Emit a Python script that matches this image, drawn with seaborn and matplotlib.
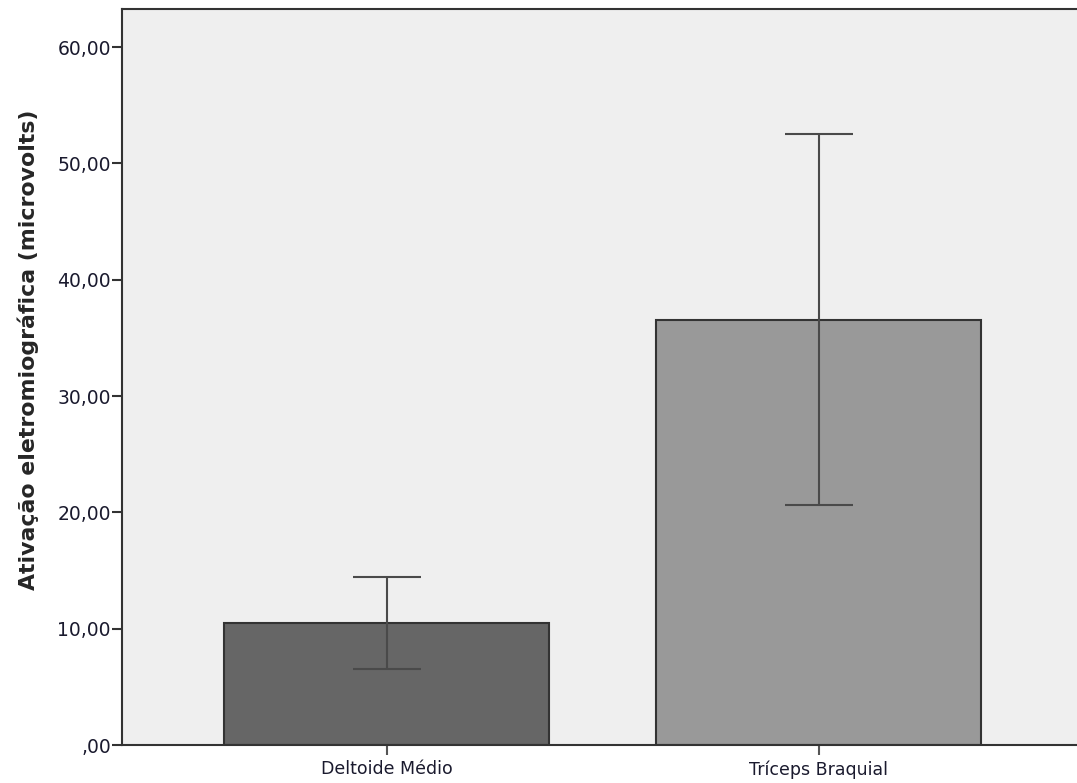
import numpy as np
import pandas as pd
import seaborn as sns
import matplotlib.pyplot as plt
from matplotlib.ticker import FuncFormatter

# valores
musculos = ['Deltoide Médio', 'Tríceps Braquial']
media = [10.47, 36.57]
ic_inf = [6.50, 20.62]
ic_sup = [14.47, 52.50]
cores = ['#666666', '#999999']

df = pd.DataFrame({'musculo': musculos, 'media': media})

sns.set_style('ticks')
plt.rcParams['font.family'] = ['DejaVu Sans']

fig = plt.figure(figsize=(10.77, 7.83), dpi=100)
ax = fig.add_axes([0.1133, 0.0485, 0.8867, 0.9405])
ax.set_facecolor('#efefef')

sns.barplot(data=df, x='musculo', y='media', hue='musculo', palette=cores,
            width=0.752, edgecolor='#333333', linewidth=1.5, errorbar=None,
            legend=False, ax=ax)

err = np.array([np.array(media) - np.array(ic_inf), np.array(ic_sup) - np.array(media)])
ax.errorbar(np.arange(len(musculos)), media, yerr=err, fmt='none',
            ecolor='#4a4a4a', elinewidth=1.5, capsize=24.5, capthick=1.5, zorder=5)

ax.set_xlim(-0.612, 1.597)
ax.set_ylim(0, 63.3)
ax.set_yticks(np.arange(0, 61, 10))
ax.yaxis.set_major_formatter(FuncFormatter(
    lambda v, p: ',00' if v == 0 else ('%.2f' % v).replace('.', ',')))

ax.set_xlabel('')
ax.set_ylabel('Ativação eletromiográfica (microvolts)', fontsize=15.8,
              fontweight='bold')
ax.yaxis.set_label_coords(-0.087, 0.536)

ax.tick_params(axis='y', length=7, width=1.5, color='#333333', labelsize=13.5,
               labelcolor='#1a1a2e', pad=1)
ax.tick_params(axis='x', length=7, width=1.5, color='#555555', labelsize=12.5,
               labelcolor='#1a1a2e', pad=4)

for s in ['left', 'bottom', 'top']:
    ax.spines[s].set_color('#333333')
    ax.spines[s].set_linewidth(1.5)
ax.spines['right'].set_visible(False)

fig.savefig('out.png', dpi=100)
